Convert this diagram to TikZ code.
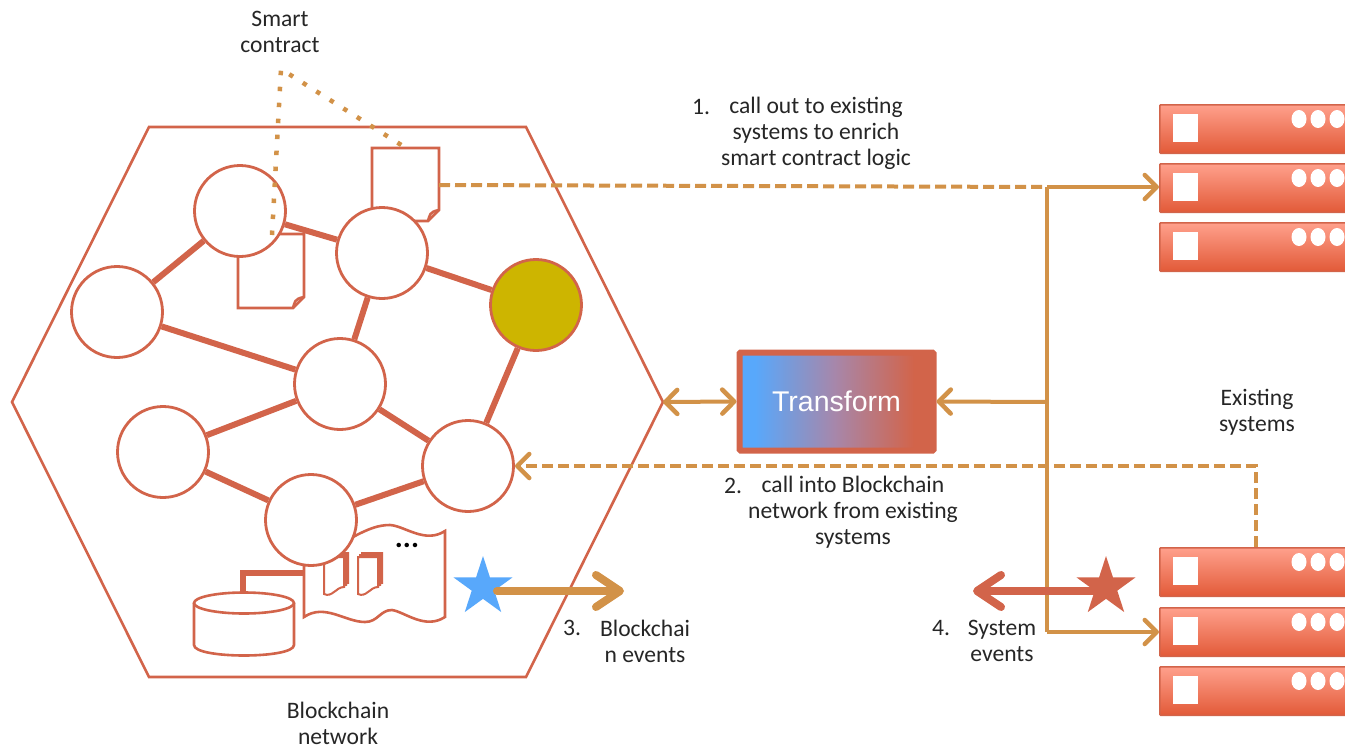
\documentclass[tikz,border=0pt]{standalone}
\usepackage{fontspec}
\setmainfont{Carlito}
\newfontfamily\tfont{Liberation Sans}
\usetikzlibrary{arrows.meta,shapes.geometric}
\definecolor{rust}{HTML}{D2644A}
\definecolor{ochre}{HTML}{D29248}
\definecolor{skyb}{HTML}{58A8FB}
\definecolor{olive}{HTML}{CDB500}
\definecolor{midm}{HTML}{A886A8}
\pgfdeclarehorizontalshading{tfshade}{100bp}{color(0bp)=(skyb); color(29bp)=(skyb); color(50bp)=(midm); color(70bp)=(rust); color(100bp)=(rust)}
\tikzset{
  outl/.style={draw=rust,line width=2.6pt,fill=white,line join=miter},
  peer/.style={circle,draw=rust,line width=2.8pt,fill=white,minimum size=91pt,inner sep=0pt},
  link/.style={draw=rust,line width=6pt},
  thintip/.style={-{Straight Barb[round,length=12pt,width=24pt,line width=4.5pt]}},
  flow/.style={draw=ochre,line width=4pt},
  dashflow/.style={flow,dash pattern=on 11pt off 5pt},
  bigflow/.style={line width=8pt,line cap=round,-{Straight Barb[round,length=24pt,width=32pt,line width=8pt]}},
  lbl/.style={font=\fontsize{23.6}{26}\selectfont,align=center,text=black!85,inner sep=0pt},
  srv/.style={rectangle,rounded corners=1pt,draw=rust,line width=1.5pt,top color=srvtop,bottom color=srvbot,minimum height=48.5pt,minimum width=200pt,inner sep=0pt,anchor=north west},
  dotwhite/.style={ellipse,fill=white,minimum width=15pt,minimum height=18pt,inner sep=0pt},
  bay/.style={rectangle,fill=white,minimum width=25pt,minimum height=28pt,inner sep=0pt,anchor=north west},
  starb/.style={star,star points=5,star point ratio=2.618,inner sep=0pt,minimum size=62pt}
}
\definecolor{srvtop}{HTML}{FFA08C}
\definecolor{srvbot}{HTML}{E25A38}
\newcommand{\smalldoc}[1]{%
  \begin{scope}[shift={(#1)}]
    \foreach \d in {4,2,0}{
      \draw[draw=rust,line width=2pt,fill=white] (\d,-\d) -- (\d+20,-\d) -- (\d+20,30-\d) .. controls (\d+12,30-\d) and (\d+8,41-\d) .. (\d,37-\d) -- cycle;
    }
  \end{scope}}
\newcommand{\serverrow}[2]{%
  \node[srv] (#1) at (1159,#2) {};
  \node[bay] (#1b) at (1173,#2+10) {};
  \node[dotwhite] (#1x) at (1299,#2+15) {};
  \node[dotwhite] (#1y) at (1318,#2+15) {};
  \node[dotwhite] (#1z) at (1337,#2+15) {};}
\begin{document}
\begin{tikzpicture}[x=1pt,y=-1pt]
\useasboundingbox (0,0) rectangle (1345,747);
\clip (0,0) rectangle (1345,747);
% hexagon
\draw[outl] (12,402) -- (149,127) -- (526,127) -- (663,402) -- (526,677) -- (149,677) -- cycle;
% contract documents
\draw[outl] (238,234) -- (304,234) -- (304,297) -- (293,308) -- (238,308) -- cycle;
\draw[draw=rust,line width=2.6pt] (293,308) .. controls (295,302) and (294,299) .. (304,297);
\draw[outl] (372,148) -- (439,148) -- (439,210) -- (428,221) -- (372,221) -- cycle;
\draw[draw=rust,line width=2.6pt] (428,221) .. controls (430,215) and (429,212) .. (439,210);
% ledger
\draw[link] (243,592) -- (243,573) -- (304,573);
\draw[outl] (304,537) .. controls (325,545) and (340,545) .. (353,537) .. controls (368,529) and (378,525) .. (390,525) .. controls (405,526) and (425,544) .. (445,531) -- (445,617) .. controls (425,630) and (405,612) .. (392,610) .. controls (380,610) and (378,622) .. (365,622) .. controls (345,622) and (325,603) .. (304,617) -- cycle;
\smalldoc{324,557}
\smalldoc{358,557}
\node[font=\fontsize{30}{30}\selectfont\bfseries,inner sep=0pt,text=black] (more) at (407,545) {...};
% database
\draw[outl] (194,603) -- (194,645) .. controls (194,659) and (294,659) .. (294,645) -- (294,603);
\draw[outl] (244,603) ellipse [x radius=50,y radius=10.5];
% peers
\node[peer] (p1) at (240,211) {};
\node[peer] (p2) at (382,253) {};
\node[peer] (p3) at (117,312) {};
\node[peer,fill=olive] (p4) at (536,305) {};
\node[peer] (p5) at (340,384) {};
\node[peer] (p6) at (163,452) {};
\node[peer] (p7) at (468,466) {};
\node[peer] (p8) at (311,520) {};
\draw[link] (p1) -- (p2);
\draw[link] (p1) -- (p3);
\draw[link] (p2) -- (p4);
\draw[link] (p2) -- (p5);
\draw[link] (p3) -- (p5);
\draw[link] (p4) -- (p7);
\draw[link] (p5) -- (p6);
\draw[link] (p5) -- (p7);
\draw[link] (p6) -- (p8);
\draw[link] (p8) -- (p7);
% dotted callouts
\coordinate (apex) at (281,69);
\coordinate (d1) at (272,235);
\coordinate (d2) at (406,148);
\draw[ochre,line width=4.5pt,dash pattern=on 4.5pt off 11.5pt] (d1) -- (apex) -- (d2);
% servers
\serverrow{s1}{104}
\serverrow{s2}{163}
\serverrow{s3}{222}
\serverrow{s4}{547}
\serverrow{s5}{607}
\serverrow{s6}{666}
% transform
\node[rectangle,rounded corners=1pt,draw=rust,line width=6pt,shading=tfshade,minimum width=194pt,minimum height=98pt,inner sep=0pt,text=white,font=\tfont\fontsize{28.5}{28.5}\selectfont] (tf) at (836.5,401.5) {Transform};
% flows
\coordinate (hexE) at (663,402);
\coordinate (docE) at (439,185);
\coordinate (j1) at (1047,187);
\coordinate (j2) at (1047,402);
\coordinate (j3) at (1047,632);
\coordinate (s2w) at (1159,187);
\coordinate (s5w) at (1159,632);
\coordinate (s4t) at (1256,547);
\coordinate (bend) at (1256,466);
\coordinate (p7e) at (515,466);
\draw[dashflow] (docE) -- (j1);
\draw[flow,thintip] (j1) -- (s2w);
\draw[flow] (j1) -- (j3);
\draw[flow,thintip] (j3) -- (s5w);
\draw[flow,thintip] (j2) -- (tf.east);
\draw[flow,{Straight Barb[round,length=12pt,width=24pt,line width=4.5pt]}-{Straight Barb[round,length=12pt,width=24pt,line width=4.5pt]}] (hexE) -- (tf.west);
\draw[dashflow,thintip] (s4t) -- (bend) -- (p7e);
% events
\node[starb,fill=skyb] (st1) at (483,587) {};
\node[starb,fill=rust] (st2) at (1106,587) {};
\coordinate (e1) at (624,591);
\coordinate (e2) at (973,591);
\draw[ochre,bigflow] (st1.center)++(14,4) -- (e1);
\draw[rust,bigflow] (st2.center)++(-10,4) -- (e2);
% labels
\node[lbl] (l0) at (280,32) {Smart\\contract};
\node[lbl,anchor=west] (n1) at (692,107) {1.};
\node[lbl] (l1) at (816,133) {call out to existing\\systems to enrich\\smart contract logic};
\node[lbl,anchor=west] (n2) at (724,486) {2.};
\node[lbl] (l2) at (853,512) {call into Blockchain\\network from existing\\systems};
\node[lbl,anchor=west] (n3) at (563,628) {3.};
\node[lbl] (l3) at (645,641) {Blockchai\\n events};
\node[lbl,anchor=west] (n4) at (932,628) {4.};
\node[lbl] (l4) at (1002,641) {System\\events};
\node[lbl] (l5) at (1257,412) {Existing\\systems};
\node[lbl] (l6) at (338,723) {Blockchain\\network};
\end{tikzpicture}
\end{document}
